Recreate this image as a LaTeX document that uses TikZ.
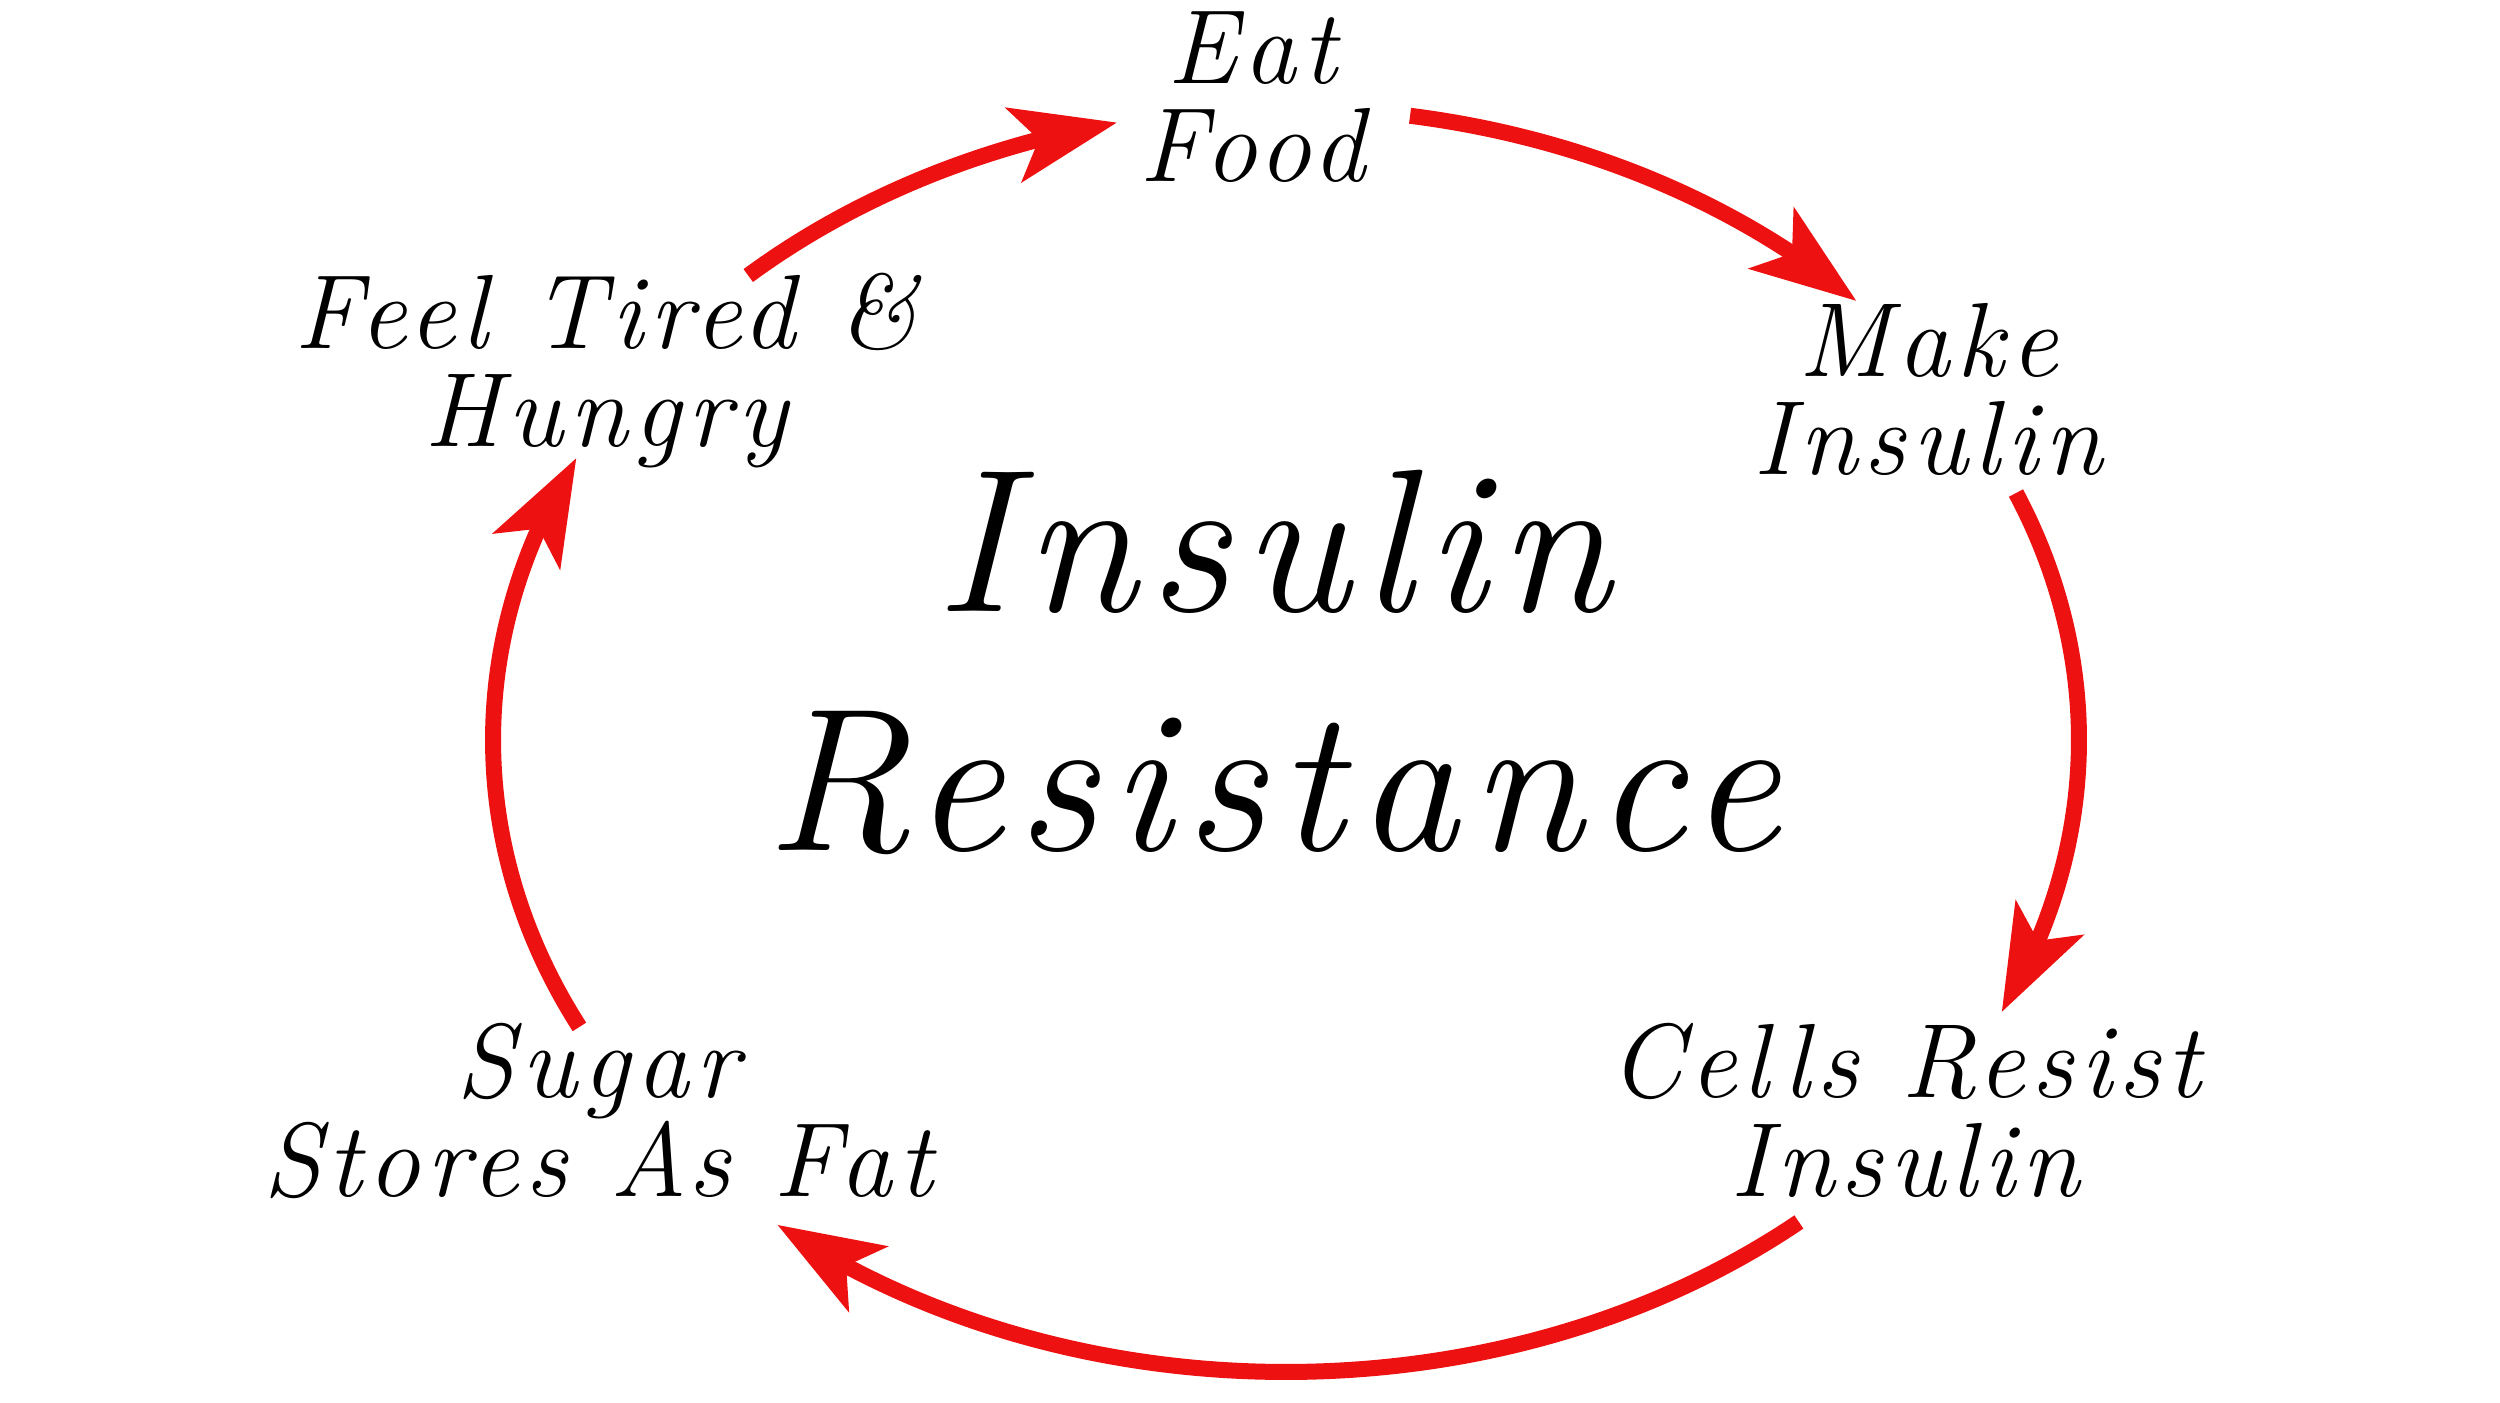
\documentclass[tikz,border=0pt]{standalone}
\usepackage{fontspec}
\newfontfamily\cyclefont[LetterSpace=6]{Latin Modern Roman}
\usetikzlibrary{arrows.meta,bending}
\definecolor{cyclered}{HTML}{EE1111}
\tikzset{
  flow/.style={cyclered, line width=1.6mm, -{Stealth[length=10.5mm, width=7.5mm, inset=2.5mm]}},
  stage/.style={font=\fontsize{30}{28}\cyclefont\itshape, align=center, anchor=base, inner sep=1pt},
}
\begin{document}
\begin{tikzpicture}
  \useasboundingbox (0,0) rectangle (25,14.02);
  \node[stage] (eat) at (12.52,12.2) {Eat\\Food};
  \node[stage] (make) at (19.28,9.27) {Make\\Insulin};
  \node[stage] (cells) at (19.05,2.06) {Cells Resist\\Insulin};
  \node[stage] (sugar) at (5.98,2.06) {Sugar\\Stores As Fat};
  \node[stage] (tired) at (6.06,9.55) {Feel Tired \&\\Hungry};
  \node[stage, font=\fontsize{58}{68}\cyclefont\itshape] (title) at (12.73,5.52) {Insulin\\Resistance};
  \coordinate (mid) at (12.86,6.62);
  % the cycle: arcs of one ellipse round the title
  \foreach \s/\e in {132.7/102.3, 81/44, 23/-25.5, -49.7/-129.9, 207/153.5}
    \draw[flow] (mid) ++(\s:7.93 and 6.32) arc[start angle=\s, end angle=\e, x radius=7.93, y radius=6.32];
\end{tikzpicture}
\end{document}
